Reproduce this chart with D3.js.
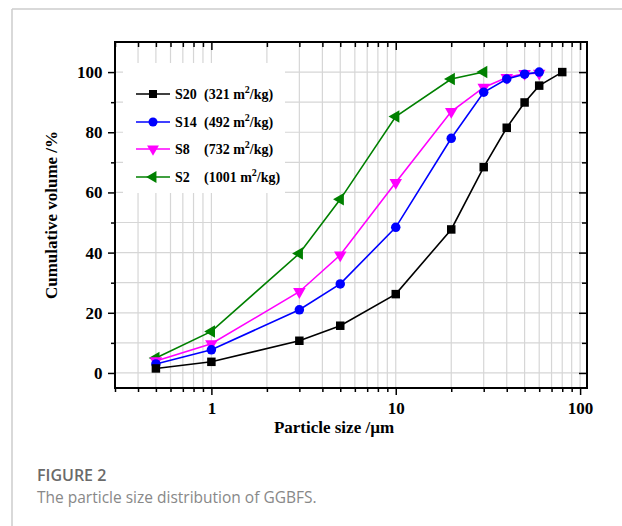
<!DOCTYPE html>
<html><head><meta charset="utf-8">
<script src="https://cdn.jsdelivr.net/npm/d3@7"></script>
<style>body{margin:0;background:#fff;}svg{display:block;}</style>
</head><body>
<svg id="c" width="622" height="526"></svg>
<script>
const sizes = [0.5, 1, 3, 5, 10, 20, 30, 40, 50, 60, 80];
const seriesNames = ["S20", "S14", "S8", "S2"];
const seriesAreas = ["(321 m", "(492 m", "(732 m", "(1001 m"];
const s20 = [1.5, 3.7, 10.7, 15.7, 26.2, 47.7, 68.4, 81.5, 89.9, 95.5, 100];
const s14 = [3.0, 7.7, 21.0, 29.6, 48.4, 78.0, 93.3, 97.7, 99.3, 100];
const s8  = [4.0, 9.7, 27.0, 39.2, 63.3, 86.9, 94.9, 98.2, 99.5, 99.6];
const s2  = [5.0, 13.8, 39.7, 57.7, 85.2, 97.7, 100];
const xTickLabels = [1, 10, 100];
const yTickLabels = [0, 20, 40, 60, 80, 100];
const colors = ["#000000", "#0000ff", "#ff00ff", "#008000"];
const markers = ["square", "circle", "tridown", "trileft"];

const svg = d3.select("#c");
// figure frame
svg.append("line").attr("x1",12).attr("y1",9).attr("x2",622).attr("y2",9).attr("stroke","#cccccc").attr("stroke-width",1.5);
svg.append("line").attr("x1",12).attr("y1",9).attr("x2",12).attr("y2",526).attr("stroke","#cccccc").attr("stroke-width",1.5);

const L=115, R=587, T=42, B=388;
const x = d3.scaleLog().domain([0.3, 109]).range([L, R]);
const y = d3.scaleLinear().domain([-5, 110]).range([B, T]);

// grid
const minorX = [];
[0.1,1,10].forEach(d=>{for(let k=1;k<10;k++){const v=+(d*k).toFixed(3); if(v>=0.3&&v<=109) minorX.push(v);}});
minorX.push(100);
const g = svg.append("g");
g.selectAll(".gx").data(minorX).enter().append("line")
 .attr("x1",d=>x(d)).attr("x2",d=>x(d)).attr("y1",T).attr("y2",B)
 .attr("stroke","#d6d6d6").attr("stroke-width",1.2);
const yGrid = d3.range(0, 101, 10);
g.selectAll(".gy").data(yGrid).enter().append("line")
 .attr("x1",L).attr("x2",R).attr("y1",d=>y(d)).attr("y2",d=>y(d))
 .attr("stroke","#d6d6d6").attr("stroke-width",1.2);

// axes
const font = "'Liberation Serif','Times New Roman',serif";
const axB = svg.append("g").attr("transform",`translate(0,${B})`)
 .call(d3.axisBottom(x).tickValues(minorX).tickSize(5).tickFormat(d=>xTickLabels.includes(d)?d:""));
axB.selectAll(".tick line").attr("y2",d=>xTickLabels.includes(d)?7:4).attr("stroke-width",1.5);
const axT = svg.append("g").attr("transform",`translate(0,${T})`)
 .call(d3.axisBottom(x).tickValues(minorX).tickSizeOuter(0).tickFormat(""));
axT.selectAll(".tick line").attr("y2",d=>xTickLabels.includes(d)?8:5).attr("stroke-width",1.5);
const axL = svg.append("g").attr("transform",`translate(${L},0)`)
 .call(d3.axisLeft(y).tickValues(d3.range(0,101,10)).tickFormat(d=>yTickLabels.includes(d)?d:""));
axL.selectAll(".tick line").attr("x2",d=>yTickLabels.includes(d)?-7:-4).attr("stroke-width",1.5);
const axR = svg.append("g").attr("transform",`translate(${R},0)`)
 .call(d3.axisLeft(y).tickValues(d3.range(0,101,10)).tickSizeOuter(0).tickFormat(""));
axR.selectAll(".tick line").attr("x2",d=>yTickLabels.includes(d)?-8:-5).attr("stroke-width",1.5);
[axB,axT,axL,axR].forEach(a=>{a.select(".domain").remove();});
svg.append("rect").attr("x",L).attr("y",T).attr("width",R-L).attr("height",B-T)
 .attr("fill","none").attr("stroke","#000").attr("stroke-width",2);
axB.selectAll("text").attr("font-family",font).attr("font-weight","bold").attr("font-size",17).attr("fill","#000").attr("dy","1.05em");
axL.selectAll("text").attr("font-family",font).attr("font-weight","bold").attr("font-size",17).attr("fill","#000").attr("dx","-0.2em");

// titles
svg.append("text").attr("x",(L+R)/2-17).attr("y",433).attr("text-anchor","middle")
 .attr("font-family",font).attr("font-weight","bold").attr("font-size",17).text("Particle size /\u00b5m");
svg.append("text").attr("transform",`translate(57,${(T+B)/2}) rotate(-90)`).attr("text-anchor","middle")
 .attr("font-family",font).attr("font-weight","bold").attr("font-size",17).text("Cumulative volume /%");

// legend background
svg.append("rect").attr("x",123).attr("y",63).attr("width",162).attr("height",130).attr("fill","#fff");

function marker(sel, type, color, size){
  if(type==="circle"){ sel.append("circle").attr("r",size*0.5).attr("fill",color); return; }
  let sym = type==="square"? d3.symbolSquare : d3.symbolTriangle;
  let rot = type==="tridown"?180: type==="trileft"? -90 : 0;
  let area = type==="square"? size*size*0.8 : size*size*0.75;
  sel.append("path").attr("d",d3.symbol().type(sym).size(area)()).attr("fill",color)
    .attr("transform",`rotate(${rot})`);
}

const allSeries=[s20,s14,s8,s2];
const line = d3.line().x(d=>x(d[0])).y(d=>y(d[1]));
[3,2,1,0].forEach(i=>{
  const data = allSeries[i].map((v,j)=>[sizes[j],v]);
  svg.append("path").datum(data).attr("d",line).attr("fill","none").attr("stroke",colors[i]).attr("stroke-width",1.6);
  const mg = svg.append("g");
  data.forEach((d,j)=>{
    const m = mg.append("g").attr("transform",`translate(${x(d[0])},${y(d[1])})`);
    marker(m, markers[i], colors[i], 9.5);
  });
});

// legend
const rows=[94,122,149,177];
seriesNames.forEach((n,i)=>{
  const ry=rows[i];
  svg.append("line").attr("x1",136).attr("x2",170).attr("y1",ry).attr("y2",ry).attr("stroke",colors[i]).attr("stroke-width",1.6);
  const m=svg.append("g").attr("transform",`translate(153,${ry})`);
  marker(m, markers[i], colors[i], 9);
  svg.append("text").attr("x",175).attr("y",ry+5).attr("font-family",font).attr("font-weight","bold").attr("font-size",14).text(n);
  const t=svg.append("text").attr("x",204).attr("y",ry+5).attr("font-family",font).attr("font-weight","bold").attr("font-size",14);
  t.append("tspan").text(seriesAreas[i]);
  t.append("tspan").attr("dy",-6).attr("font-size",10).text("2");
  t.append("tspan").attr("dy",6).text("/kg)");
});

// caption
svg.append("text").attr("x",37).attr("y",481).attr("font-family","'Open Sans','Noto Sans',sans-serif").attr("font-weight",600).attr("font-size",16).attr("fill","#6a6a6a").text("FIGURE 2");
svg.append("text").attr("x",37).attr("y",503).attr("font-family","'Open Sans','Noto Sans',sans-serif").attr("font-size",15.5).attr("fill","#888").text("The particle size distribution of GGBFS.");
</script>
</body></html>
